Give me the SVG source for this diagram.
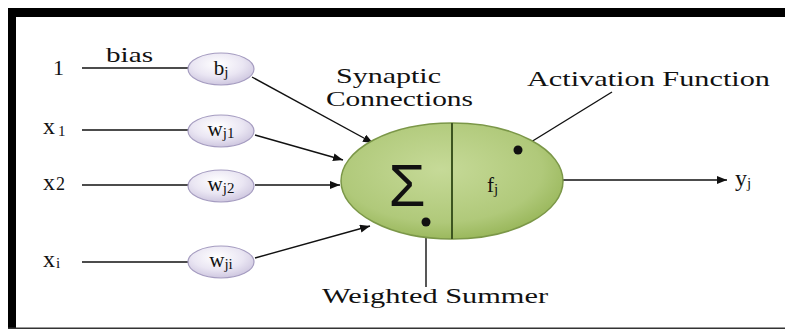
<svg xmlns="http://www.w3.org/2000/svg" width="785" height="329" viewBox="0 0 785 329">
<style>
.t{font-family:"Liberation Serif","DejaVu Serif","Times New Roman",serif;fill:#111}
.nd{text-anchor:middle}
.ln{stroke:#111;stroke-width:1.4;fill:none}
.ar{stroke:#111;stroke-width:1.4;fill:none;marker-end:url(#ah)}
.node{fill:url(#lav);stroke:#a59cc0;stroke-width:1.2}
</style>
<defs>
<marker id="ah" viewBox="0 0 10 8" refX="10" refY="4" markerWidth="10" markerHeight="8" markerUnits="userSpaceOnUse" orient="auto">
<path d="M0,0 L10,4 L0,8 z" fill="#111"/>
</marker>
<radialGradient id="lav" cx="0.45" cy="0.35" r="0.7">
<stop offset="0" stop-color="#ffffff"/>
<stop offset="0.55" stop-color="#eae6f3"/>
<stop offset="1" stop-color="#c9c1dc"/>
</radialGradient>
<radialGradient id="grn" cx="0.45" cy="0.4" r="0.65">
<stop offset="0" stop-color="#c6da98"/>
<stop offset="0.7" stop-color="#b0c97a"/>
<stop offset="1" stop-color="#94b354"/>
</radialGradient>
</defs>
<rect width="785" height="329" fill="#fff"/>
<g id="frame">
<rect x="8" y="8" width="777" height="9" fill="#000"/>
<rect x="8" y="8" width="8" height="321" fill="#000"/>
<rect x="8" y="327.5" width="777" height="1.5" fill="#333"/>
</g>
<g id="connectors">
<line class="ln" x1="82" y1="68" x2="189" y2="68"/>
<line class="ln" x1="82" y1="130" x2="189" y2="130"/>
<line class="ln" x1="82" y1="185" x2="189" y2="185"/>
<line class="ln" x1="82" y1="262" x2="189" y2="262"/>
<line class="ar" x1="252" y1="77" x2="373" y2="143"/>
<line class="ar" x1="255" y1="135" x2="343" y2="160"/>
<line class="ar" x1="255" y1="185" x2="340" y2="185"/>
<line class="ar" x1="255" y1="258" x2="370" y2="226"/>
<line class="ar" x1="562" y1="180" x2="727" y2="180"/>
<line class="ln" x1="518" y1="150" x2="612" y2="92"/>
<line class="ln" x1="426" y1="222" x2="426" y2="287"/>
</g>
<g id="inputs">
<text class="t" font-size="22" x="53" y="75">1</text>
<text class="t" font-size="22" x="106" y="62" textLength="47" lengthAdjust="spacingAndGlyphs">bias</text>
<text class="t" font-size="24" x="43" y="134">x<tspan font-size="15" dx="3" dy="2">1</tspan></text>
<text class="t" font-size="24" x="43" y="190">x<tspan font-size="18" dx="1">2</tspan></text>
<text class="t" font-size="24" x="43" y="267">x<tspan font-size="15" dx="1" dy="1">i</tspan></text>
</g>
<g id="node-bj">
<ellipse class="node" cx="221" cy="69" rx="33" ry="16"/>
<text class="t nd" font-size="21" x="221" y="75">b<tspan font-size="15" dy="2">j</tspan></text>
</g>
<g id="node-wj1">
<ellipse class="node" cx="221" cy="131" rx="33" ry="16"/>
<text class="t nd" font-size="21" x="221" y="136">w<tspan font-size="15" dy="2">j1</tspan></text>
</g>
<g id="node-wj2">
<ellipse class="node" cx="221" cy="186" rx="33" ry="16"/>
<text class="t nd" font-size="21" x="221" y="191">w<tspan font-size="15" dy="2">j2</tspan></text>
</g>
<g id="node-wji">
<ellipse class="node" cx="221" cy="262" rx="33" ry="16"/>
<text class="t nd" font-size="21" x="221" y="267">w<tspan font-size="15" dy="2">ji</tspan></text>
</g>
<g id="neuron">
<ellipse cx="452" cy="181" rx="111" ry="58" fill="url(#grn)" stroke="#7b9748" stroke-width="1.5"/>
<line x1="452" y1="123" x2="452" y2="239" stroke="#3c5520" stroke-width="2"/>
<text x="407" y="206" font-family="Liberation Sans, Arial, sans-serif" font-size="60" text-anchor="middle" fill="#111">Σ</text>
<text class="t" x="487" y="192" font-size="21">f<tspan font-size="15" dy="2">j</tspan></text>
<circle cx="426" cy="222" r="4.5" fill="#111"/>
<circle cx="518" cy="150" r="4.5" fill="#111"/>
</g>
<g id="labels">
<text class="t" font-size="22" x="336" y="83" textLength="105" lengthAdjust="spacingAndGlyphs">Synaptic</text>
<text class="t" font-size="22" x="326" y="106" textLength="147" lengthAdjust="spacingAndGlyphs">Connections</text>
<text class="t" font-size="22" x="527" y="86" textLength="243" lengthAdjust="spacingAndGlyphs">Activation Function</text>
<text class="t" font-size="22" x="322" y="303" textLength="226" lengthAdjust="spacingAndGlyphs">Weighted Summer</text>
<text class="t" font-size="24" x="735" y="186">y<tspan font-size="15" dy="2">j</tspan></text>
</g>
</svg>
